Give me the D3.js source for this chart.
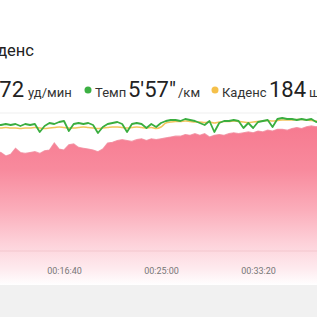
<!DOCTYPE html>
<html><head><meta charset="utf-8">
<script src="https://cdn.jsdelivr.net/npm/d3@7"></script>
<style>html,body{margin:0;padding:0;background:#fff;}svg{display:block;font-family:Roboto,"Noto Sans",sans-serif;}</style>
</head><body>
<script>
// time in seconds
const times = [650,675,700,725,750,775,800,825,850,875,900,925,950,975,1000,1025,1050,1075,1100,1125,1150,1175,1200,1225,1250,1275,1300,1325,1350,1375,1400,1425,1450,1475,1500,1525,1550,1575,1600,1625,1650,1675,1700,1725,1750,1775,1800,1825,1850,1875,1900,1925,1950,1975,2000,2025,2050,2075,2100,2125,2150,2175,2200,2225,2250,2275,2300,2325];
// heart rate, bpm
const heartRate = [155,154,150,152,159,154,153,154,155,153,156,157,165,158,157,163,164,160,159,158,157,155,158,165,166,168,169,168,167,169,170,168,170,169,170,171,172,173,173,175,174,176,174,176,172,174,175,174,176,177,176,177,178,177,179,178,180,179,181,181,180,182,183,182,184,185,184,186];
// pace, seconds per km
const pace = [352.5,352.5,350,352.5,350,355,350,352.5,350,370,355,347.5,350,345,342.5,367.5,350,347.5,350,347.5,352.5,372.5,357.5,350,347.5,345,350,370,350,347.5,350,360,350,357.5,347.5,342.5,340,340,342.5,337.5,340,342.5,347.5,352.5,342.5,370,347.5,342.5,342.5,340,342.5,360,347.5,360,345,342.5,340,357.5,337.5,335,337.5,337.5,340,337.5,340,337.5,345,342.5];
// cadence, steps per minute
const cadence = [182.6,182.6,183.1,182.6,182.6,182.0,182.6,182.6,183.1,182.6,182.0,182.6,183.1,183.7,183.1,182.6,182.6,183.1,183.7,183.1,182.6,182.0,182.6,183.1,183.7,183.7,183.1,182.6,183.1,183.7,183.1,182.6,183.1,182.0,183.7,188.4,189.5,190.1,190.1,190.7,190.1,189.5,189.5,189.0,189.5,188.4,189.5,190.1,190.1,190.7,190.1,189.5,189.0,189.5,190.1,190.7,191.3,190.7,191.3,191.9,191.9,191.9,192.4,192.4,191.9,191.3,190.7,190.7];
const tickValues = [1000,1500,2000];
const tickLabels = ["00:16:40","00:25:00","00:33:20"];

const W = 317, H = 317;
const svg = d3.select("body").append("svg").attr("width", W).attr("height", H);

const x = d3.scaleLinear().domain([1000, 2000]).range([64, 258]);
const yHR = d3.scaleLinear().domain([0, 200]).range([285, 113]);
const yCad = d3.scaleLinear().domain([0, 200]).range([285, 113]);
const yPace = d3.scaleLinear().domain([320, 750]).range([112, 284]);

// bottom gray band
svg.append("rect").attr("x", 0).attr("y", 285).attr("width", W).attr("height", 32).attr("fill", "#f1f1f1");

// gradient
const defs = svg.append("defs");
const grad = defs.append("linearGradient").attr("id", "hrGrad")
  .attr("gradientUnits", "userSpaceOnUse").attr("x1", 0).attr("x2", 0).attr("y1", 120).attr("y2", 285);
[[0, "#f6788e"], [0.3, "#f88a9d"], [0.55, "#fbaebb"], [0.75, "#fdd2da"], [0.9, "#feeaee"], [1, "#ffffff"]]
  .forEach(([o, c]) => grad.append("stop").attr("offset", o).attr("stop-color", c));

// top gridline
svg.append("line").attr("x1", 0).attr("x2", W).attr("y1", 113).attr("y2", 113).attr("stroke", "#efefef").attr("stroke-width", 1);

const hrData = times.map((t, i) => ({t, v: heartRate[i]}));
const area = d3.area().x(d => x(d.t)).y0(285).y1(d => yHR(d.v));
svg.append("path").datum(hrData).attr("d", area).attr("fill", "url(#hrGrad)");
svg.append("path").datum(hrData).attr("d", d3.line().x(d => x(d.t)).y(d => yHR(d.v)))
  .attr("fill", "none").attr("stroke", "#f1889b").attr("stroke-width", 1.2).attr("opacity", 0.8);

// gridline
svg.append("line").attr("x1", 0).attr("x2", W).attr("y1", 251).attr("y2", 251).attr("stroke", "rgba(200,120,135,0.18)").attr("stroke-width", 1);

// cadence line
svg.append("path").datum(times.map((t, i) => ({t, v: cadence[i]})))
  .attr("d", d3.line().x(d => x(d.t)).y(d => yCad(d.v)).curve(d3.curveMonotoneX))
  .attr("fill", "none").attr("stroke", "#f2c55c").attr("stroke-width", 1.6);

// pace line
svg.append("path").datum(times.map((t, i) => ({t, v: pace[i]})))
  .attr("d", d3.line().x(d => x(d.t)).y(d => yPace(d.v)))
  .attr("fill", "none").attr("stroke", "#3aae3f").attr("stroke-width", 1.8).attr("stroke-linejoin", "round");

// x axis labels
const axis = d3.axisBottom(x).tickValues(tickValues).tickFormat((d, i) => tickLabels[i]).tickSize(0);
const ax = svg.append("g").attr("transform", "translate(0,265)").call(axis);
ax.select(".domain").remove();
ax.selectAll("text").attr("fill", "#777").attr("font-size", 9).attr("font-family", "Roboto, sans-serif");

// title
svg.append("text").attr("x", 34).attr("y", 56).attr("text-anchor", "end")
  .attr("font-size", 16.5).attr("fill", "#222").text("Каденс");

// legend
const lg = svg.append("g");
lg.append("text").attr("x", 24).attr("y", 97).attr("text-anchor", "end").attr("font-size", 22).attr("fill", "#222").text("172");
lg.append("text").attr("x", 28).attr("y", 97).attr("font-size", 13).attr("fill", "#333").text("уд/мин");
lg.append("circle").attr("cx", 88).attr("cy", 90).attr("r", 3.5).attr("fill", "#3cb043");
lg.append("text").attr("x", 95).attr("y", 97).attr("font-size", 13).attr("fill", "#333").text("Темп");
lg.append("text").attr("x", 128).attr("y", 97).attr("font-size", 22).attr("fill", "#222").text("5'57\"");
lg.append("text").attr("x", 178).attr("y", 97).attr("font-size", 13).attr("fill", "#333").text("/км");
lg.append("circle").attr("cx", 215).attr("cy", 90).attr("r", 3.5).attr("fill", "#f5c04a");
lg.append("text").attr("x", 222).attr("y", 97).attr("font-size", 13).attr("fill", "#333").text("Каденс");
lg.append("text").attr("x", 269).attr("y", 97).attr("font-size", 22).attr("fill", "#222").text("184");
lg.append("text").attr("x", 309).attr("y", 97).attr("font-size", 13).attr("fill", "#333").text("шаг/мин");
</script>
</body></html>
